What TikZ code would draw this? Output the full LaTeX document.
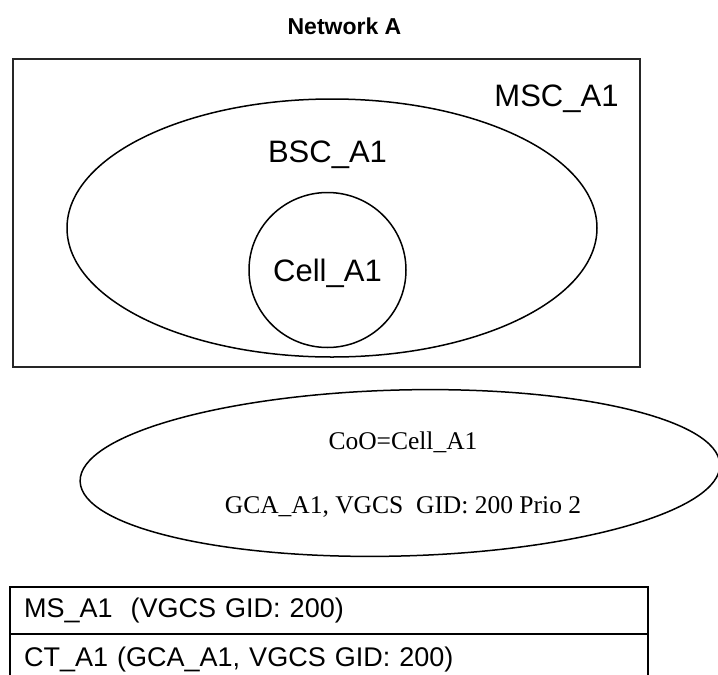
\documentclass[tikz,border=0pt]{standalone}
\usepackage{fontspec}
\setmainfont{Liberation Sans}
\newfontfamily\timesfont{Liberation Serif}
\usetikzlibrary{shapes.geometric}

\begin{document}
\begin{tikzpicture}[x=1pt,y=-1pt,
area/.style={draw=black!85,line width=1.5pt,inner sep=0pt},
oval/.style={draw=black,line width=1.5pt,inner sep=0pt,ellipse},
netlabel/.style={font=\fontsize{31}{31}\selectfont,anchor=base},
heading/.style={font=\fontsize{23}{23}\selectfont\bfseries,anchor=base},
note/.style={font=\fontsize{25.5}{25.5}\selectfont\timesfont,anchor=base},
row/.style={draw,line width=2.4pt,anchor=north west,minimum width=638pt,inner xsep=14pt,text width=610pt,align=left,font=\fontsize{27}{27}\selectfont}]

\useasboundingbox (0,0) rectangle (718,675);

\node[heading] (net) at (344.5,34) {Network A};

\node[area,rectangle,minimum width=627pt,minimum height=308pt] (msc) at (326.5,213) {};

\node[netlabel] (msclabel) at (556.5,106) {MSC\_A1};

\node[oval,minimum width=530pt,minimum height=258pt] (bsc) at (332,228) {};

\node[netlabel] (bsclabel) at (327.5,162) {BSC\_A1};

\node[oval,minimum width=157pt,minimum height=155pt] (cell) at (327.5,270) {};

\node[netlabel] (celllabel) at (327.5,281) {Cell\_A1};

\node[oval,minimum width=640pt,minimum height=166pt,rotate=1.5] (coo) at (400,473) {};

\node[note] (coolabel) at (403,449) {CoO=Cell\_A1};

\node[note] (gca) at (403,513) {GCA\_A1, VGCS\ \ GID: 200 Prio 2};

\node[row,minimum height=47pt] (ms) at (9,586) {MS\_A1\ \ (VGCS GID: 200)};

\node[row,minimum height=50pt] (ct) at (9,633) {CT\_A1 (GCA\_A1, VGCS GID: 200)};

\end{tikzpicture}
\end{document}
